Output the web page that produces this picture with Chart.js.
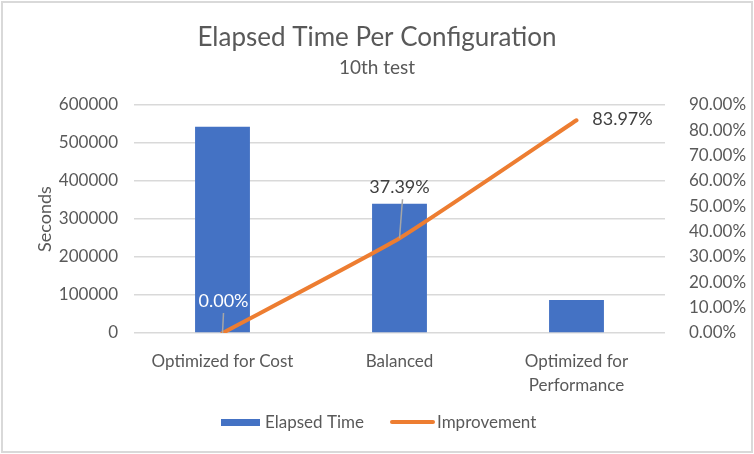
<!DOCTYPE html>
<html>
<head>
<meta charset="utf-8">
<script src="https://cdn.jsdelivr.net/npm/chart.js@4.4.1/dist/chart.umd.min.js"></script>
<style>
  html, body { margin: 0; padding: 0; background: #fff; }
  #wrap { position: relative; width: 754px; height: 454px; }
</style>
</head>
<body>
<div id="wrap"><canvas id="combo-chart" width="754" height="454"></canvas></div>
<script>
// Chart data
var categories = ["Optimized for Cost", "Balanced", ["Optimized for", "Performance"]];
var elapsedTime = [543000, 340000, 87000];
var improvement = [0, 0.3739, 0.8397];
var improvementLabels = ["0.00%", "37.39%", "83.97%"];
var secondsTicks = [0, 100000, 200000, 300000, 400000, 500000, 600000];
var percentTicks = [0, 0.1, 0.2, 0.3, 0.4, 0.5, 0.6, 0.7, 0.8, 0.9];

var fontFamily = "Lato, 'Open Sans', sans-serif";
var textColor = "#595959";

// where each improvement label sits relative to its point
var labelStyle = [
    { dx: 1, dy: -32, color: "#ffffff", leader: true },
    { dx: 0, dy: -51, color: "#404040", leader: true },
    { dx: 46, dy: -1, color: "#404040", leader: false }
];

// titles, border, legend and data labels
var decorPlugin = {
    id: "decor",
    beforeDraw: function (chart) {
        var ctx = chart.ctx;
        ctx.save();
        ctx.fillStyle = "#fff";
        ctx.fillRect(0, 0, chart.width, chart.height);
        ctx.strokeStyle = "#d9d9d9";
        ctx.lineWidth = 2;
        ctx.strokeRect(2, 2, chart.width - 4, chart.height - 4);

        ctx.fillStyle = textColor;
        ctx.textAlign = "center";
        ctx.textBaseline = "middle";
        ctx.font = "26px " + fontFamily;
        ctx.fillText("Elapsed Time Per Configuration", 377, 38);
        ctx.font = "19px " + fontFamily;
        ctx.fillText("10th test", 377, 68);
        ctx.restore();
    },
    afterDraw: function (chart) {
        var ctx = chart.ctx;
        ctx.save();

        // data labels of the line
        var meta = chart.getDatasetMeta(1);
        ctx.font = "18px " + fontFamily;
        ctx.textAlign = "center";
        ctx.textBaseline = "middle";
        meta.data.forEach(function (pt, i) {
            var s = labelStyle[i];
            var lx = pt.x + s.dx, ly = pt.y + s.dy;
            if (s.leader) {
                ctx.strokeStyle = "#a6a6a6";
                ctx.lineWidth = 1.5;
                ctx.beginPath();
                ctx.moveTo(lx + (i == 1 ? 3 : 0), ly + 12);
                ctx.lineTo(pt.x, pt.y);
                ctx.stroke();
            }
            ctx.fillStyle = s.color;
            ctx.fillText(improvementLabels[i], lx, ly);
        });

        // legend
        var ds = chart.data.datasets;
        ctx.textAlign = "left";
        ctx.font = "17px " + fontFamily;
        ctx.fillStyle = ds[0].backgroundColor;
        ctx.fillRect(221, 419, 39, 7);
        ctx.fillStyle = textColor;
        ctx.fillText(ds[0].label, 265, 423);
        ctx.strokeStyle = ds[1].borderColor;
        ctx.lineWidth = 4;
        ctx.lineCap = "round";
        ctx.beginPath();
        ctx.moveTo(392, 422);
        ctx.lineTo(433, 422);
        ctx.stroke();
        ctx.fillStyle = textColor;
        ctx.fillText(ds[1].label, 437, 423);
        ctx.restore();
    }
};

var ctx = document.getElementById("combo-chart");

var chartData = {
    labels: categories,
    datasets: [{
        type: "line",
        label: "Improvement",
        data: improvement,
        yAxisID: "y1",
        borderColor: "#ED7D31",
        backgroundColor: "#ED7D31",
        borderWidth: 4,
        borderCapStyle: "round",
        tension: 0.15,
        pointRadius: 0,
        order: 0
    }, {
        type: "bar",
        label: "Elapsed Time",
        data: elapsedTime,
        yAxisID: "y",
        backgroundColor: "#4472C4",
        barPercentage: 0.31,
        categoryPercentage: 1,
        order: 1
    }]
};
// legend order: bar first
chartData.datasets.reverse();

var chartOptions = {
    responsive: false,
    devicePixelRatio: 1,
    animation: false,
    layout: { padding: { left: 4, right: 0, top: 105, bottom: 61 } },
    plugins: {
        legend: { display: false },
        title: { display: false },
        tooltip: { enabled: false }
    },
    scales: {
        x: {
            grid: { display: false },
            border: { display: false },
            ticks: { color: textColor, font: { family: fontFamily, size: 17, lineHeight: 1.4 }, padding: 9, maxRotation: 0 },
            afterFit: function (scale) { scale.height = 60; }
        },
        y: {
            position: "left",
            min: 0,
            max: 600000,
            afterBuildTicks: function (scale) {
                scale.ticks = secondsTicks.map(function (v) { return { value: v }; });
            },
            grid: { color: "#d9d9d9", lineWidth: 1.5, drawTicks: false },
            border: { display: false },
            ticks: {
                color: textColor,
                font: { family: fontFamily, size: 17 },
                padding: 16,
                callback: function (v) { return String(v); }
            },
            title: { display: true, text: "Seconds", color: textColor, font: { family: fontFamily, size: 18 }, padding: { top: 30 } },
            afterFit: function (scale) { scale.width = 130; }
        },
        y1: {
            position: "right",
            min: 0,
            max: 0.9,
            afterBuildTicks: function (scale) {
                scale.ticks = percentTicks.map(function (v) { return { value: v }; });
            },
            grid: { display: false },
            border: { display: false },
            ticks: {
                color: textColor,
                font: { family: fontFamily, size: 17 },
                padding: 16,
                callback: function (v) { return (v * 100).toFixed(2) + "%"; }
            },
            afterFit: function (scale) { scale.width = 89; }
        }
    }
};

var config = {
    data: chartData,
    options: chartOptions,
    plugins: [decorPlugin]
};

var comboChart = new Chart(ctx, config);
</script>
</body>
</html>
